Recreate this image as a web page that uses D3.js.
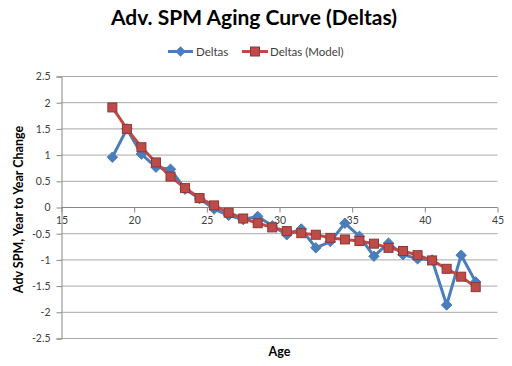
<!DOCTYPE html>
<html><head><meta charset="utf-8">
<script src="https://cdn.jsdelivr.net/npm/d3@7"></script>
<style>body{margin:0;background:#fff;} svg{display:block;font-family:Lato,"Open Sans",sans-serif;}</style>
</head><body>
<script>
const ages = [18.5,19.5,20.5,21.5,22.5,23.5,24.5,25.5,26.5,27.5,28.5,29.5,30.5,31.5,32.5,33.5,34.5,35.5,36.5,37.5,38.5,39.5,40.5,41.5,42.5,43.5];
const deltas = [0.96,1.50,1.02,0.77,0.73,0.35,0.17,-0.03,-0.15,-0.23,-0.17,-0.35,-0.52,-0.41,-0.77,-0.65,-0.30,-0.55,-0.93,-0.68,-0.90,-0.98,-1.00,-1.86,-0.91,-1.42];
const model = [1.91,1.50,1.15,0.86,0.59,0.37,0.18,0.04,-0.10,-0.21,-0.30,-0.38,-0.45,-0.49,-0.52,-0.58,-0.61,-0.64,-0.69,-0.77,-0.83,-0.91,-1.01,-1.17,-1.32,-1.52];
const xTicks = [15,20,25,30,35,40,45];
const yTicks = [2.5,2,1.5,1,0.5,0,-0.5,-1,-1.5,-2,-2.5];
const seriesNames = ["Deltas","Deltas (Model)"];

const W=512,H=366;
const svg=d3.select("body").append("svg").attr("width",W).attr("height",H);
const x=d3.scaleLinear().domain([15,45]).range([61.5,497.5]);
const y=d3.scaleLinear().domain([-2.5,2.5]).range([338.5,76.5]);

// gridlines
svg.append("g").selectAll("line").data(yTicks).join("line")
  .attr("x1",x(15)).attr("x2",x(45)).attr("y1",d=>y(d)).attr("y2",d=>y(d))
  .attr("stroke",d=>d===0?"#868686":"#a9a9a9").attr("stroke-width",1);

// y axis
const yAxis=d3.axisLeft(y).tickValues(yTicks).tickSize(5).tickPadding(6).tickFormat(d=>d3.format("")(d).replace("−","-"));
const gy=svg.append("g").attr("transform",`translate(${x(15)},0)`).call(yAxis);
gy.select(".domain").attr("stroke","#868686");
gy.selectAll(".tick line").attr("stroke","#868686");
gy.selectAll("text").attr("fill","#404040").style("font-size","10.5px").style("font-family","Lato,sans-serif");

// x axis at y=0
const xAxis=d3.axisBottom(x).tickValues(xTicks).tickSize(5).tickPadding(4);
const gx=svg.append("g").attr("transform",`translate(0,${y(0)})`).call(xAxis);
gx.select(".domain").remove();
gx.selectAll(".tick line").attr("stroke","#868686");
gx.selectAll("text").attr("fill","#404040").style("font-size","10.5px").style("font-family","Lato,sans-serif");

const line=d3.line().x((d,i)=>x(ages[i])).y(d=>y(d));
const blue="#4A7EBB", red="#BE4B48", redDark="#8C3836";

// blue series
svg.append("path").datum(deltas).attr("d",line).attr("fill","none").attr("stroke",blue).attr("stroke-width",3).attr("stroke-linejoin","round");
const diamond=d3.symbol().type(d3.symbolDiamond2).size(70);
svg.append("g").selectAll("path").data(deltas).join("path")
  .attr("d",diamond).attr("transform",(d,i)=>`translate(${x(ages[i])},${y(d)})`)
  .attr("fill",blue).attr("stroke",blue).attr("stroke-width",1);

// red series
svg.append("path").datum(model).attr("d",line).attr("fill","none").attr("stroke",red).attr("stroke-width",3).attr("stroke-linejoin","round");
svg.append("g").selectAll("rect").data(model).join("rect")
  .attr("x",(d,i)=>x(ages[i])-4.5).attr("y",d=>y(d)-4.5).attr("width",9).attr("height",9)
  .attr("fill",red).attr("stroke",redDark).attr("stroke-width",1);

// title
svg.append("text").attr("x",254).attr("y",25).attr("text-anchor","middle")
  .style("font-size","21px").style("font-weight","bold").attr("fill","#000").text("Adv. SPM Aging Curve (Deltas)");

// legend
const lg=svg.append("g");
lg.append("line").attr("x1",168).attr("x2",193).attr("y1",51.5).attr("y2",51.5).attr("stroke",blue).attr("stroke-width",3);
lg.append("path").attr("d",diamond).attr("transform","translate(180.5,51.5)").attr("fill",blue);
lg.append("text").attr("x",196).attr("y",55.5).style("font-size","11.5px").attr("fill","#404040").text(seriesNames[0]);
lg.append("line").attr("x1",242).attr("x2",268).attr("y1",51.5).attr("y2",51.5).attr("stroke",red).attr("stroke-width",3);
lg.append("rect").attr("x",250.5).attr("y",47).attr("width",9).attr("height",9).attr("fill",red).attr("stroke",redDark);
lg.append("text").attr("x",270).attr("y",55.5).style("font-size","11.5px").attr("fill","#404040").text(seriesNames[1]);

// axis titles
svg.append("text").attr("transform","translate(23,209.5) rotate(-90)").attr("text-anchor","middle")
  .style("font-size","12.5px").style("font-weight","bold").attr("fill","#000").text("Adv SPM, Year to Year Change");
svg.append("text").attr("x",279.5).attr("y",356).attr("text-anchor","middle")
  .style("font-size","12.5px").style("font-weight","bold").attr("fill","#000").text("Age");
</script>
</body></html>
